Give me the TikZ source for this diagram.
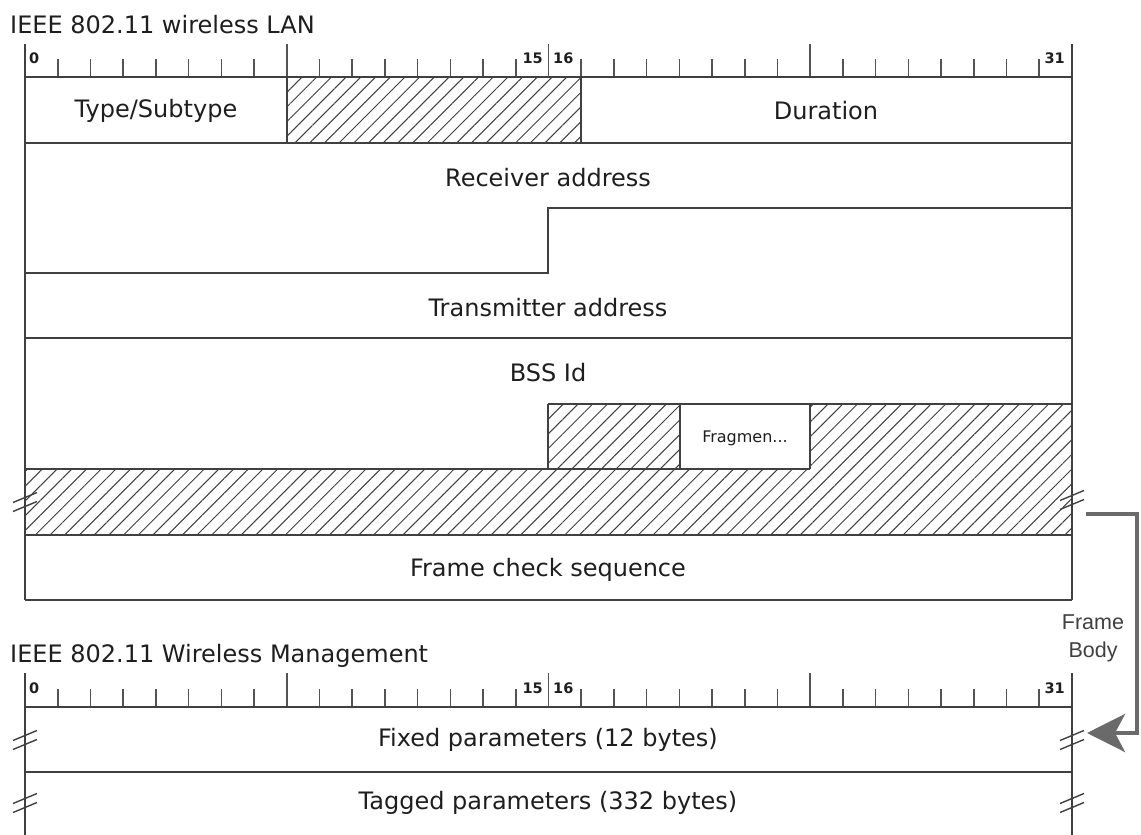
\documentclass[tikz,border=0pt]{standalone}
\usepackage{fontspec}
\setmainfont{DejaVu Sans}
\newfontfamily\arialfont{Liberation Sans}
\usetikzlibrary{patterns.meta,arrows.meta}
\definecolor{rule}{HTML}{404040}
\definecolor{txt}{HTML}{1E1E1E}
\definecolor{arrowgray}{HTML}{6A6A6A}

% x position of a bit boundary (32 bits between x=25 and x=1072)
\newcommand\bx[1]{25+32.71875*#1}

% bit ruler: #1 baseline, #2 top of short ticks, #3 top of long ticks
\newcommand\bitruler[3]{%
  \foreach \i in {0,...,32}{%
    \pgfmathtruncatemacro\m{mod(\i,8)}%
    \ifnum\m=0
      \draw[tick] ({\bx{\i}},#1) -- ({\bx{\i}},#3);
    \else
      \draw[tick] ({\bx{\i}},#1) -- ({\bx{\i}},#2);
    \fi}%
  \draw[frame] (25,#1) -- (1072,#1);}

% "continues" mark across a vertical border
\newcommand\brkmark[2]{%
  \draw[brk] (#1-12,#2+0.5) -- (#1+12,#2-9.5);
  \draw[brk] (#1-12,#2+9.5) -- (#1+12,#2-0.5);}

\begin{document}
\begin{tikzpicture}[x=1pt,y=-1pt,
  frame/.style={draw=rule,line width=1.8pt},
  tick/.style={draw=rule!90,line width=1.6pt},
  hatch/.style={pattern={Lines[angle=45,distance=10.4pt,line width=1pt]},pattern color=rule},
  field/.style={font=\fontsize{24}{28}\selectfont,text=txt,inner sep=0pt},
  smallfield/.style={font=\fontsize{16}{19}\selectfont,text=txt,inner sep=0pt},
  bitno/.style={font=\bfseries\fontsize{14.5}{16}\selectfont,text=txt,inner sep=0pt},
  heading/.style={font=\fontsize{24}{28}\selectfont,text=txt,inner sep=0pt,anchor=base west},
  brk/.style={draw=rule,line width=1.4pt},
  bodyarrow/.style={draw=arrowgray,line width=4.2pt,-{Stealth[length=38pt,width=38pt,inset=10pt]}},
]
\useasboundingbox (0,0) rectangle (1141,835);
\fill[white] (0,0) rectangle (1141,835);
\clip (0,0) rectangle (1141,835);

% ---------------- 802.11 wireless LAN frame ----------------
\node[heading] (lantitle) at (10,33) {IEEE 802.11 wireless LAN};

% hatched (unnamed) fields
\fill[hatch] (287,77) rectangle (581,143);
\fill[hatch] (548,404) rectangle (680,469);
\fill[hatch] (810,404) -- (1072,404) -- (1072,535) -- (25,535) -- (25,469) -- (810,469) -- cycle;

\bitruler{77}{59}{44}
\draw[frame] (25,44) -- (25,600);
\draw[frame] (1072,44) -- (1072,600);

\draw[frame] (287,77) -- (287,143);
\draw[frame] (581,77) -- (581,143);
\draw[frame] (25,143) -- (1072,143);
\draw[frame] (25,273) -- (548,273) -- (548,208) -- (1072,208);
\draw[frame] (25,338) -- (1072,338);
\draw[frame] (548,404) -- (1072,404);
\draw[frame] (548,404) -- (548,469);
\draw[frame] (680,404) -- (680,469);
\draw[frame] (810,404) -- (810,469);
\draw[frame] (25,469) -- (810,469);
\draw[frame] (25,535) -- (1072,535);
\draw[frame] (25,600) -- (1072,600);

\node[bitno,anchor=west] (u0) at (29,58) {0};
\node[bitno,anchor=east] (u15) at (543,58) {15};
\node[bitno,anchor=west] (u16) at (553,58) {16};
\node[bitno,anchor=east] (u31) at (1065,58) {31};

\node[field] (typ) at (156,111) {Type/Subtype};
\node[field] (dur) at (826,111) {Duration};
\node[field] (ra) at (548,178) {Receiver address};
\node[field] (ta) at (548,308) {Transmitter address};
\node[field] (bss) at (548,373) {BSS Id};
\node[smallfield] (frag) at (745,438) {Fragmen...};
\node[field] (fcs) at (548,570) {Frame check sequence};

\brkmark{25}{502}
\brkmark{1072}{500}
\coordinate (bodyout) at (1086,514);

% ---------------- 802.11 management body ----------------
\node[heading] (mgmttitle) at (10,662) {IEEE 802.11 Wireless Management};

\bitruler{707}{689}{673}
\draw[frame] (25,673) -- (25,845);
\draw[frame] (1072,673) -- (1072,845);
\draw[frame] (25,772) -- (1072,772);

\node[bitno,anchor=west] (l0) at (29,688) {0};
\node[bitno,anchor=east] (l15) at (543,688) {15};
\node[bitno,anchor=west] (l16) at (553,688) {16};
\node[bitno,anchor=east] (l31) at (1065,688) {31};

\node[field] (fixed) at (548,740) {Fixed parameters (12 bytes)};
\node[field] (tagged) at (548,803) {Tagged parameters (332 bytes)};

\brkmark{25}{740}
\brkmark{1072}{740}
\brkmark{25}{803}
\brkmark{1072}{803}
\coordinate (bodyin) at (1087,733);

% frame body continues in the management layout
\draw[bodyarrow] (bodyout) -- ++(51,0) |- (bodyin);
\node[font=\arialfont\fontsize{21.5}{28}\selectfont,text=txt!85,align=center,inner sep=0pt] (bodylabel) at (1093,638) {Frame\\Body};
\end{tikzpicture}
\end{document}
